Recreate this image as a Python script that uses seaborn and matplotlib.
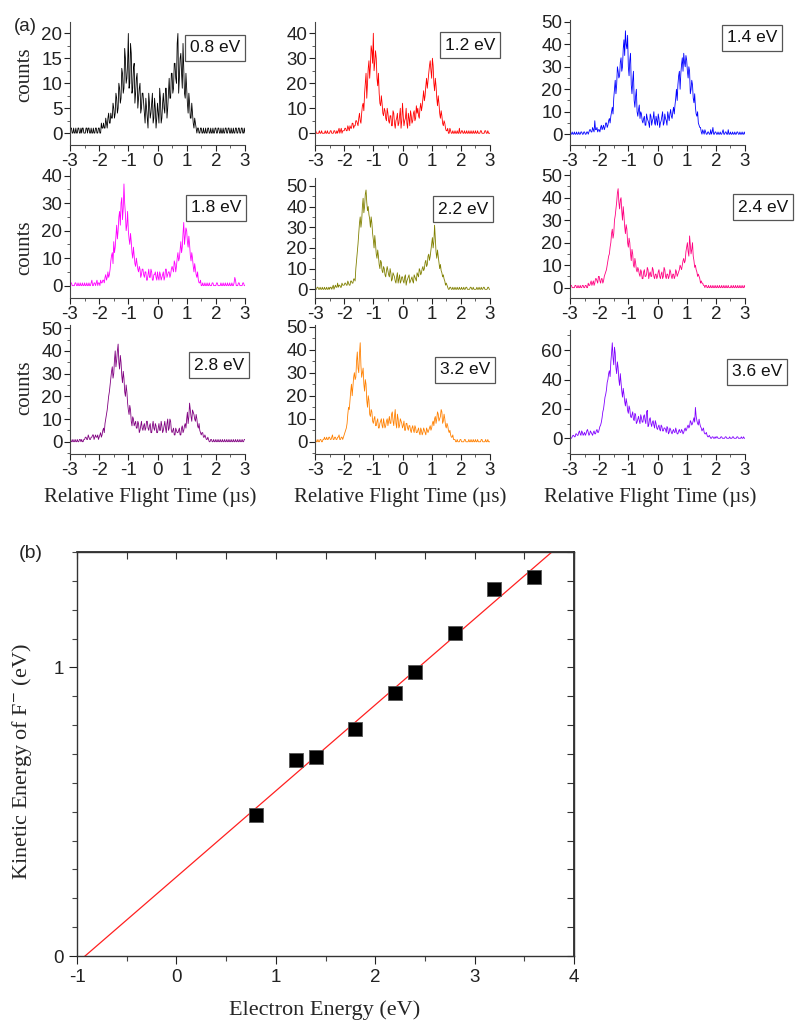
import numpy as np
import pandas as pd
import seaborn as sns
import matplotlib

matplotlib.use('Agg')
import matplotlib.pyplot as plt
from matplotlib.ticker import MultipleLocator

# time axis of the spectra: bins of 0.05 us plus the bins half a step later
flight_time = np.round(np.arange(121) * 0.05 - 3, 3)
flight_time_half = np.round(np.arange(120) * 0.05 - 2.975, 3)

# counts, one list per electron energy (whole-step bins)
counts_08 = [0, 1, 0, 0, 1, 0, 1, 0, 0, 1,
             0, 1, 0, 1, 0, 0, 1, 0, 1, 0,
             1, 0, 1, 2, 1, 2, 3, 2, 4, 3,
             5, 4, 7, 5, 9, 7, 12, 9, 15, 11,
             20, 10, 16, 9, 14, 8, 12, 7, 10, 5,
             8, 4, 7, 3, 8, 3, 6, 2, 7, 1,
             6, 2, 7, 3, 8, 4, 9, 5, 11, 7,
             12, 9, 14, 10, 20, 11, 16, 9, 13, 7,
             9, 4, 6, 3, 4, 1, 2, 0, 1, 0,
             1, 0, 0, 1, 0, 1, 0, 0, 1, 0,
             1, 0, 1, 0, 0, 1, 0, 1, 0, 1,
             0, 0, 1, 0, 1, 0, 1, 0, 1, 0,
             0]
counts_12 = [0, 0, 0, 1, 0, 0, 0, 1, 0, 0,
             0, 1, 0, 1, 0, 1, 1, 0, 2, 1,
             1, 2, 1, 2, 3, 2, 4, 3, 5, 4,
             6, 5, 8, 12, 16, 24, 20, 29, 27, 33,
             40, 28, 30, 19, 16, 11, 12, 7, 9, 5,
             8, 4, 7, 3, 8, 2, 6, 3, 7, 2,
             12, 3, 6, 4, 8, 3, 7, 5, 9, 6,
             8, 7, 10, 9, 14, 13, 19, 18, 24, 29,
             22, 27, 17, 19, 11, 12, 6, 7, 3, 4,
             1, 2, 0, 1, 0, 0, 1, 0, 0, 2,
             0, 1, 0, 0, 1, 0, 0, 1, 0, 0,
             1, 0, 0, 0, 1, 0, 0, 1, 0, 0,
             0]
counts_14 = [1, 0, 0, 1, 0, 0, 1, 0, 1, 0,
             1, 0, 1, 1, 2, 1, 2, 6, 2, 1,
             2, 3, 2, 4, 3, 5, 4, 7, 8, 12,
             16, 24, 22, 28, 26, 34, 30, 42, 46, 38,
             30, 33, 22, 24, 15, 17, 10, 11, 7, 9,
             5, 8, 4, 7, 5, 9, 4, 7, 5, 8,
             4, 7, 5, 8, 4, 9, 6, 10, 6, 11,
             7, 12, 13, 20, 22, 28, 27, 34, 36, 30,
             33, 25, 28, 20, 22, 14, 12, 8, 5, 3,
             1, 2, 0, 1, 0, 1, 0, 0, 3, 0,
             1, 0, 0, 1, 0, 2, 0, 1, 0, 0,
             1, 0, 0, 1, 0, 1, 0, 0, 1, 0,
             0]
counts_18 = [0, 1, 0, 0, 1, 0, 0, 1, 0, 0,
             1, 0, 0, 1, 0, 2, 0, 1, 1, 0,
             1, 2, 1, 2, 3, 2, 5, 4, 9, 12,
             16, 14, 22, 20, 27, 30, 24, 37, 26, 22,
             20, 15, 16, 10, 11, 7, 8, 5, 6, 4,
             6, 3, 5, 2, 6, 3, 5, 2, 4, 3,
             5, 2, 4, 3, 5, 3, 6, 4, 5, 4,
             7, 5, 8, 7, 12, 10, 16, 14, 23, 18,
             20, 14, 15, 9, 10, 5, 6, 3, 2, 1,
             0, 1, 0, 0, 1, 0, 0, 0, 1, 0,
             0, 1, 0, 0, 0, 1, 0, 0, 1, 0,
             0, 1, 0, 3, 0, 0, 1, 0, 0, 1,
             0]
counts_22 = [0, 0, 1, 0, 0, 1, 0, 0, 1, 0,
             0, 1, 1, 0, 2, 1, 1, 2, 1, 2,
             2, 3, 2, 3, 2, 4, 3, 5, 10, 18,
             27, 35, 33, 44, 40, 48, 38, 36, 30, 32,
             24, 26, 17, 19, 12, 14, 9, 11, 7, 9,
             9, 6, 8, 5, 7, 4, 6, 3, 7, 4,
             6, 3, 7, 4, 6, 3, 5, 4, 7, 5,
             8, 6, 9, 8, 11, 10, 14, 12, 17, 16,
             22, 20, 31, 18, 19, 13, 12, 8, 7, 4,
             3, 1, 0, 1, 0, 0, 1, 0, 0, 1,
             0, 0, 1, 0, 1, 0, 0, 1, 0, 0,
             0, 1, 0, 0, 1, 0, 1, 0, 0, 1,
             0]
counts_24 = [0, 1, 0, 0, 1, 0, 0, 1, 0, 1,
             0, 1, 0, 1, 2, 1, 3, 2, 4, 2,
             5, 2, 4, 3, 6, 8, 12, 15, 20, 26,
             24, 32, 38, 44, 35, 40, 30, 32, 24, 26,
             18, 20, 12, 15, 9, 11, 7, 8, 5, 7,
             4, 8, 5, 9, 4, 7, 5, 8, 4, 6,
             5, 8, 4, 7, 5, 8, 4, 6, 5, 7,
             4, 6, 5, 7, 6, 8, 9, 10, 13, 12,
             18, 16, 23, 15, 20, 12, 10, 7, 6, 4,
             3, 2, 1, 1, 0, 1, 0, 0, 1, 0,
             0, 1, 0, 0, 1, 0, 0, 1, 0, 0,
             0, 0, 1, 0, 0, 1, 0, 0, 1, 0,
             0]
counts_28 = [0, 0, 1, 0, 0, 1, 0, 1, 1, 0,
             1, 2, 1, 2, 1, 2, 3, 2, 2, 3,
             2, 4, 3, 6, 8, 12, 17, 22, 28, 33,
             30, 40, 36, 43, 32, 35, 26, 28, 20, 22,
             14, 16, 9, 11, 7, 9, 6, 8, 5, 9,
             5, 8, 6, 9, 5, 8, 4, 9, 5, 7,
             4, 8, 5, 7, 5, 9, 4, 10, 6, 9,
             4, 6, 3, 5, 4, 6, 3, 7, 5, 8,
             10, 8, 17, 11, 14, 12, 9, 10, 6, 5,
             3, 4, 2, 2, 1, 1, 0, 1, 0, 0,
             1, 0, 0, 1, 0, 0, 1, 0, 0, 1,
             0, 0, 1, 0, 0, 1, 0, 0, 1, 0,
             1]
counts_32 = [0, 0, 1, 0, 1, 0, 1, 1, 2, 1,
             2, 1, 3, 1, 2, 1, 2, 1, 2, 1,
             3, 5, 8, 15, 18, 25, 24, 30, 28, 39,
             30, 43, 28, 32, 22, 25, 15, 18, 11, 13,
             8, 11, 7, 10, 6, 9, 7, 10, 6, 9,
             7, 11, 8, 13, 7, 14, 6, 10, 7, 9,
             6, 9, 5, 8, 5, 7, 4, 7, 4, 6,
             4, 6, 3, 5, 4, 5, 3, 5, 5, 7,
             6, 9, 10, 8, 13, 9, 11, 13, 9, 10,
             6, 7, 4, 3, 2, 1, 1, 0, 0, 0,
             1, 0, 0, 1, 0, 0, 0, 1, 0, 0,
             1, 0, 0, 0, 1, 0, 0, 1, 0, 0,
             0]
counts_36 = [1, 0, 2, 1, 3, 2, 4, 3, 5, 2,
             4, 3, 6, 2, 5, 3, 4, 3, 5, 4,
             6, 9, 14, 20, 28, 33, 40, 46, 52, 65,
             50, 58, 44, 48, 36, 38, 28, 30, 22, 24,
             17, 20, 14, 18, 12, 16, 11, 15, 10, 14,
             11, 16, 10, 19, 9, 14, 8, 12, 7, 10,
             6, 9, 5, 8, 5, 7, 4, 7, 4, 6,
             3, 6, 4, 5, 3, 6, 4, 5, 4, 7,
             6, 9, 8, 11, 10, 14, 21, 12, 9, 10,
             7, 6, 4, 3, 2, 1, 1, 0, 1, 0,
             0, 1, 0, 0, 1, 0, 0, 1, 0, 0,
             0, 0, 1, 0, 0, 1, 0, 0, 0, 1,
             0]

# counts in the half-step bins
half_08 = [1, 0, 1, 0, 0, 1, 0, 1, 1, 0,
           0, 1, 1, 0, 1, 0, 0, 1, 0, 1,
           0, 2, 1, 1, 3, 1, 4, 2, 3, 6,
           3, 8, 4, 10, 6, 13, 8, 17, 10, 14,
           9, 18, 8, 13, 6, 11, 5, 9, 4, 8,
           6, 2, 5, 1, 6, 4, 8, 3, 5, 3,
           4, 9, 2, 6, 5, 9, 3, 8, 7, 12,
           8, 14, 11, 18, 8, 15, 12, 18, 8, 12,
           6, 8, 3, 6, 2, 3, 1, 1, 0, 1,
           0, 1, 0, 0, 1, 0, 1, 0, 0, 1,
           0, 1, 0, 1, 0, 0, 1, 0, 1, 0,
           1, 0, 0, 1, 0, 1, 0, 1, 0, 1]
half_12 = [1, 0, 0, 0, 1, 0, 0, 0, 1, 0,
           1, 0, 0, 1, 0, 0, 2, 1, 0, 1,
           2, 1, 3, 1, 2, 4, 2, 3, 5, 3,
           8, 4, 11, 9, 20, 14, 26, 22, 35, 28,
           25, 33, 22, 24, 12, 15, 8, 10, 6, 10,
           5, 7, 3, 9, 4, 5, 8, 4, 10, 5,
           7, 5, 10, 2, 6, 9, 4, 8, 5, 11,
           10, 6, 12, 11, 17, 15, 22, 21, 27, 25,
           30, 20, 22, 14, 15, 8, 9, 4, 5, 2,
           1, 0, 2, 0, 1, 0, 0, 1, 0, 0,
           1, 0, 1, 0, 0, 1, 0, 0, 1, 0,
           0, 1, 0, 1, 0, 0, 1, 0, 1, 0]
half_14 = [0, 1, 0, 0, 1, 0, 0, 1, 0, 1,
           0, 1, 0, 2, 1, 3, 1, 2, 3, 2,
           1, 4, 3, 2, 5, 3, 6, 5, 10, 9,
           20, 18, 30, 25, 32, 28, 38, 35, 40, 44,
           26, 36, 18, 28, 12, 20, 8, 13, 10, 6,
           7, 4, 9, 6, 3, 8, 6, 10, 4, 6,
           9, 3, 6, 10, 5, 7, 4, 8, 9, 8,
           10, 9, 16, 15, 26, 20, 31, 28, 32, 35,
           28, 30, 18, 24, 16, 18, 9, 10, 4, 3,
           0, 1, 2, 0, 1, 0, 2, 1, 0, 1,
           0, 1, 0, 0, 1, 0, 1, 0, 2, 0,
           0, 1, 0, 0, 1, 0, 1, 0, 0, 1]
half_18 = [1, 0, 0, 1, 0, 1, 0, 0, 1, 0,
           0, 1, 0, 0, 1, 0, 1, 0, 2, 1,
           0, 1, 2, 1, 4, 3, 3, 6, 11, 8,
           12, 18, 17, 25, 22, 32, 28, 30, 20, 27,
           17, 19, 12, 14, 8, 10, 6, 7, 3, 6,
           4, 5, 2, 4, 3, 6, 2, 4, 5, 2,
           3, 5, 2, 4, 2, 6, 3, 5, 3, 6,
           6, 9, 5, 10, 9, 13, 12, 19, 15, 21,
           16, 18, 11, 12, 7, 8, 4, 5, 1, 2,
           0, 0, 1, 0, 0, 1, 0, 1, 0, 0,
           1, 0, 0, 1, 0, 0, 1, 0, 0, 1,
           0, 0, 1, 2, 0, 1, 0, 0, 1, 0]
half_22 = [0, 1, 0, 1, 0, 0, 1, 0, 0, 1,
           1, 0, 2, 1, 1, 3, 2, 1, 3, 2,
           3, 2, 4, 2, 4, 3, 5, 4, 14, 22,
           32, 30, 40, 37, 46, 42, 40, 34, 35, 27,
           20, 22, 15, 16, 10, 13, 8, 10, 6, 11,
           7, 10, 4, 8, 6, 3, 8, 5, 3, 6,
           4, 6, 2, 5, 7, 4, 6, 3, 6, 4,
           7, 10, 7, 10, 9, 13, 11, 16, 14, 19,
           25, 23, 24, 15, 16, 10, 9, 6, 5, 2,
           2, 0, 1, 0, 1, 0, 0, 1, 0, 0,
           1, 0, 0, 1, 0, 0, 1, 0, 1, 0,
           0, 0, 1, 0, 0, 1, 0, 0, 1, 0]
half_24 = [1, 0, 0, 1, 0, 1, 0, 0, 1, 0,
           1, 0, 2, 1, 3, 2, 1, 4, 3, 5,
           3, 4, 2, 5, 7, 10, 14, 18, 24, 22,
           30, 35, 42, 38, 39, 34, 36, 27, 28, 20,
           22, 15, 17, 10, 13, 8, 9, 6, 8, 4,
           7, 5, 6, 8, 6, 5, 9, 5, 6, 4,
           7, 5, 6, 4, 9, 5, 6, 4, 8, 5,
           6, 4, 8, 5, 7, 10, 8, 12, 11, 16,
           20, 14, 19, 17, 14, 9, 8, 5, 5, 2,
           2, 1, 0, 1, 0, 0, 1, 0, 0, 1,
           0, 0, 1, 0, 0, 1, 0, 0, 1, 0,
           1, 0, 0, 1, 0, 0, 1, 0, 0, 1]
half_28 = [1, 0, 0, 1, 0, 0, 1, 0, 0, 1,
           2, 1, 3, 1, 2, 3, 1, 3, 2, 1,
           3, 2, 5, 4, 10, 14, 20, 25, 31, 28,
           36, 33, 40, 35, 38, 29, 31, 22, 25, 17,
           12, 14, 7, 10, 8, 6, 9, 4, 7, 6,
           7, 5, 9, 6, 7, 4, 7, 6, 8, 4,
           6, 5, 9, 4, 7, 6, 8, 5, 10, 5,
           5, 3, 6, 4, 5, 3, 6, 4, 7, 6,
           13, 11, 14, 9, 13, 10, 12, 7, 8, 4,
           4, 2, 3, 1, 2, 0, 1, 0, 1, 0,
           0, 1, 0, 0, 1, 0, 0, 1, 0, 0,
           1, 0, 0, 1, 0, 0, 1, 0, 0, 1]
half_32 = [1, 0, 0, 1, 0, 1, 2, 1, 1, 2,
           1, 2, 1, 2, 1, 2, 3, 1, 2, 2,
           4, 6, 12, 14, 22, 20, 28, 27, 35, 32,
           38, 33, 30, 25, 27, 18, 20, 12, 14, 9,
           10, 7, 9, 6, 8, 10, 6, 8, 7, 10,
           9, 8, 12, 9, 11, 8, 12, 6, 10, 8,
           7, 5, 8, 6, 7, 5, 6, 5, 7, 4,
           5, 4, 6, 3, 6, 4, 6, 4, 6, 5,
           8, 7, 11, 10, 12, 10, 14, 8, 12, 7,
           8, 5, 5, 2, 3, 1, 0, 1, 0, 1,
           0, 0, 1, 0, 0, 1, 0, 0, 1, 0,
           0, 1, 0, 0, 1, 0, 0, 0, 1, 0]
half_36 = [0, 1, 2, 1, 3, 2, 5, 2, 4, 3,
           2, 5, 4, 3, 4, 2, 5, 3, 6, 4,
           8, 11, 18, 24, 30, 38, 44, 42, 58, 55,
           62, 48, 52, 40, 44, 32, 34, 25, 27, 19,
           22, 15, 16, 13, 17, 10, 13, 12, 16, 11,
           15, 12, 18, 8, 13, 10, 11, 9, 12, 7,
           8, 6, 9, 5, 7, 6, 8, 3, 7, 4,
           5, 4, 7, 3, 5, 4, 6, 3, 6, 5,
           8, 7, 12, 9, 12, 11, 15, 10, 13, 8,
           5, 7, 3, 4, 1, 2, 0, 1, 0, 1,
           1, 0, 0, 1, 0, 0, 1, 0, 0, 1,
           0, 1, 0, 0, 1, 0, 0, 1, 0, 0]

spectra = [counts_08, counts_12, counts_14, counts_18, counts_22,
           counts_24, counts_28, counts_32, counts_36]
spectra_half = [half_08, half_12, half_14, half_18, half_22,
                half_24, half_28, half_32, half_36]
energy_labels = ['0.8 eV', '1.2 eV', '1.4 eV', '1.8 eV', '2.2 eV',
                 '2.4 eV', '2.8 eV', '3.2 eV', '3.6 eV']
line_colors = ['#000000', '#FF0000', '#0000FF', '#FF00FF', '#808000',
               '#FF0080', '#800080', '#FF8000', '#8000FF']
y_limits = [(-2.4, 22.3), (-4.7, 44.5), (-4.8, 50.8), (-4.5, 42.8), (-4.2, 53.8),
            (-4.6, 52.3), (-5.4, 51.4), (-5.3, 50.7), (-10.7, 73.7)]
y_steps = [5, 10, 10, 10, 10, 10, 10, 10, 20]

# panel (b)
electron_energy = [0.8, 1.2, 1.4, 1.8, 2.2, 2.4, 2.8, 3.2, 3.6]
kinetic_energy = [0.49, 0.68, 0.69, 0.785, 0.913, 0.983, 1.12, 1.273, 1.315]

sns.set_theme(style='ticks')
plt.rcParams['font.family'] = ['Liberation Sans', 'DejaVu Sans']
plt.rcParams['axes.unicode_minus'] = False
plt.rcParams['mathtext.fontset'] = 'stix'
serif = ['Liberation Serif', 'DejaVu Serif']

W, H = 795, 1021
fig = plt.figure(figsize=(W / 100, H / 100), dpi=100)


def px_axes(left, top, right, bottom):
    return fig.add_axes([left / W, 1 - bottom / H, (right - left) / W, (bottom - top) / H])


# panel placement in pixels (left, top, bottom) and label box centres
col_left = [70, 315, 570]
row_bottom = [145, 298, 454]
panel_top = [22, 22, 20, 168, 178, 170, 325, 325, 330]
box_centre = [(215, 48), (470, 45), (752, 38), (216, 208), (463, 209),
              (763, 207), (219, 365), (465, 370), (757, 372)]

for i in range(9):
    r, c = divmod(i, 3)
    ax = px_axes(col_left[c], panel_top[i], col_left[c] + 175, row_bottom[r])
    df = pd.DataFrame({'t': np.concatenate([flight_time, flight_time_half]),
                       'n': list(spectra[i]) + list(spectra_half[i])})
    sns.lineplot(data=df, x='t', y='n', ax=ax, color=line_colors[i],
                 lw=0.6, estimator=None, sort=True)
    ax.set_xlim(-3, 3)
    ax.set_ylim(*y_limits[i])
    ax.xaxis.set_major_locator(MultipleLocator(1))
    ax.xaxis.set_minor_locator(MultipleLocator(0.5))
    ax.yaxis.set_major_locator(MultipleLocator(y_steps[i]))
    ax.yaxis.set_minor_locator(MultipleLocator(y_steps[i] / 2))
    ax.tick_params(which='major', length=4, width=0.8, labelsize=13.5, pad=1.5, colors='#222')
    ax.tick_params(which='minor', length=2, width=0.6, colors='#444')
    for s in ['top', 'right']:
        ax.spines[s].set_visible(False)
    for s in ['left', 'bottom']:
        ax.spines[s].set_linewidth(0.8)
        ax.spines[s].set_color('#444')
    ax.set_xlabel('')
    ax.set_ylabel('')
    bx, by = box_centre[i]
    fig.text(bx / W, 1 - by / H, energy_labels[i], ha='center', va='center', fontsize=12.5,
             color='#111',
             bbox=dict(boxstyle='square,pad=0.3', fc='white', ec='#555', lw=0.9))

for yc in [75, 248, 388]:
    fig.text(25 / W, 1 - yc / H, 'counts', rotation=90, ha='center', va='center',
             fontsize=15, family=serif)
for xc in [150, 400, 650]:
    fig.text(xc / W, 1 - 497 / H, 'Relative Flight Time (\u00b5s)', ha='center', va='center',
             fontsize=15, family=serif)
fig.text(25 / W, 1 - 26 / H, '(a)', ha='center', va='center', fontsize=13.5)
fig.text(31 / W, 1 - 554 / H, '(b)', ha='center', va='center', fontsize=14)

# panel (b): kinetic energy against electron energy with linear fit
axb = px_axes(77, 552, 574, 956)
axb.set_xlim(-1, 4)
axb.set_ylim(0, 1.4)
sns.regplot(x=electron_energy, y=kinetic_energy, ax=axb, scatter=False, ci=None,
            truncate=False, line_kws=dict(color='#FF2020', lw=0.9))
sns.scatterplot(x=electron_energy, y=kinetic_energy, ax=axb, marker='s', s=95,
                color='black', edgecolor='#555', linewidth=0.6, zorder=3)
axb.set_xlim(-1, 4)
axb.set_ylim(0, 1.4)
axb.xaxis.set_major_locator(MultipleLocator(1))
axb.xaxis.set_minor_locator(MultipleLocator(0.5))
axb.yaxis.set_major_locator(MultipleLocator(1))
axb.yaxis.set_minor_locator(MultipleLocator(0.1))
axb.tick_params(which='major', length=6, width=0.8, labelsize=13.5, colors='#222')
axb.tick_params(which='minor', length=3.5, width=0.8, colors='#444')
for s in axb.spines.values():
    s.set_linewidth(1.0)
    s.set_color('#333')
axb.set_xlabel('')
axb.set_ylabel('')

top = axb.secondary_xaxis('top')
top.xaxis.set_major_locator(MultipleLocator(1))
top.xaxis.set_minor_locator(MultipleLocator(0.5))
top.tick_params(which='both', direction='in', labeltop=False, length=5, width=0.8, colors='#333')
right = axb.secondary_yaxis('right')
right.yaxis.set_major_locator(MultipleLocator(1))
right.yaxis.set_minor_locator(MultipleLocator(0.1))
right.tick_params(which='both', direction='in', labelright=False, length=5, width=0.8, colors='#333')

fig.text(325 / W, 1 - 1010 / H, 'Electron Energy (eV)', ha='center', va='center',
         fontsize=16, family=serif)
fig.text(22 / W, 1 - 762 / H, 'Kinetic Energy of F$^{-}$ (eV)', rotation=90,
         ha='center', va='center', fontsize=16, family=serif)

fig.savefig('out.png', dpi=100)
